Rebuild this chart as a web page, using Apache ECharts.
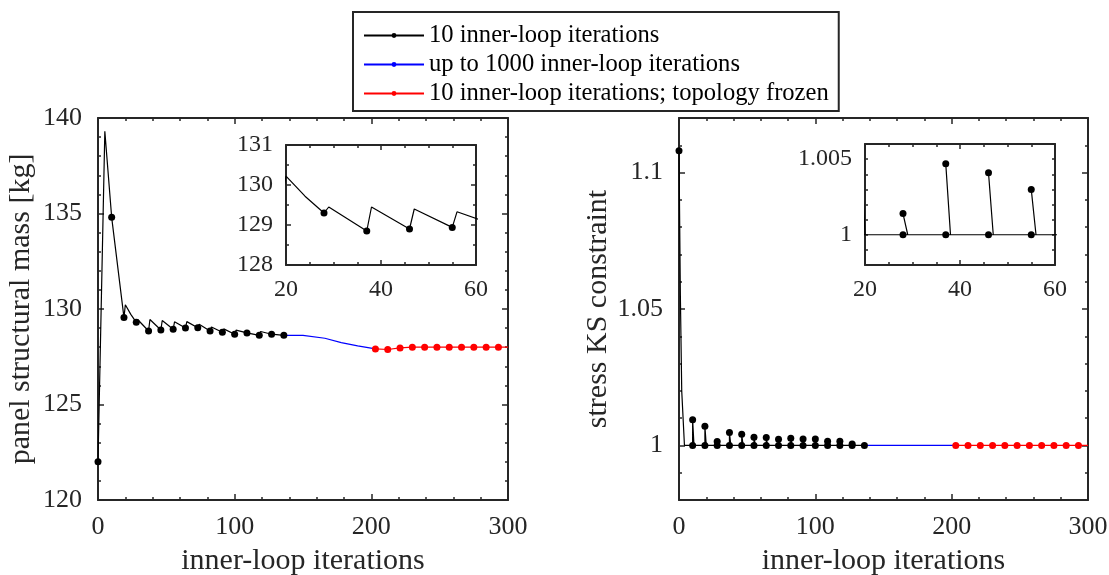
<!DOCTYPE html>
<html>
<head>
<meta charset="utf-8">
<script src="https://cdn.jsdelivr.net/npm/echarts@6/dist/echarts.min.js"></script>
<style>
  html, body { margin: 0; padding: 0; background: #fff; }
  #chart { width: 1109px; height: 575px; }
</style>
</head>
<body>
<div id="chart"></div>
<script>
// outer-loop iterations (markers) of the first phase
const outerIts = [0, 10, 19, 28, 37, 46, 55, 64, 73, 82, 91, 100, 109, 118, 127, 136];
const massAtOuter = [122.0, 134.8, 129.55, 129.3, 128.85, 128.9, 128.94, 129.0, 129.02, 128.85, 128.78, 128.68, 128.75, 128.62, 128.68, 128.62];
// inner iterations between markers (no marker)
const massMidIts = [5, 20, 24, 29, 38, 47, 56, 65, 74, 83, 92, 101, 110, 119, 128];
const massMid = [139.3, 130.22, 129.72, 129.45, 129.45, 129.4, 129.33, 129.34, 129.2, 129.06, 128.96, 128.89, 128.83, 128.82, 128.76];
// up to 1000 inner-loop iterations
const freeIts = [136, 150, 166, 178, 190, 203];
const massFree = [128.62, 128.62, 128.47, 128.24, 128.07, 127.91];
// topology frozen
const frozenIts = [203, 212, 221, 230, 239, 248, 257, 266, 275, 284, 293, 300];
const massFrozen = [127.91, 127.88, 127.96, 128.0, 128.0, 128.0, 128.0, 128.0, 128.0, 128.0, 128.0, 128.0];

// stress KS constraint
const ksStartIts = [0, 1, 2, 4];
const ksStart = [1.108, 1.055, 1.02, 1.0];
const ksPeak = [1.0094, 1.0070, 1.0014, 1.0047, 1.0041, 1.0030, 1.0029, 1.0023, 1.0026, 1.0024, 1.0024, 1.0015, 1.0015, 1.0005];
const ksFree = [1.0, 1.0, 1.0, 1.0, 1.0, 1.0];
const ksFrozen = [1.0, 1.0, 1.0, 1.0, 1.0, 1.0, 1.0, 1.0, 1.0, 1.0, 1.0, 1.0];

const L1 = '10 inner-loop iterations';
const L2 = 'up to 1000 inner-loop iterations';
const L3 = '10 inner-loop iterations; topology frozen';
const AX = '#262626';
const FONT = 'Liberation Serif';

// black mass path: markers at outer iterations, plain vertices between
const massPath = outerIts.map((x, i) => ({ x, v: { value: [x, massAtOuter[i]] } }))
  .concat(massMidIts.map((x, i) => ({ x: x + 0.001, v: { value: [x, massMid[i]], symbol: 'none' } })))
  .sort((a, b) => a.x - b.x).map(d => d.v);

// black KS path: baseline marker, then spike marker at the same iteration
const ksPath = ksStartIts.map((x, i) => i === 0 ? { value: [x, ksStart[i]] } : { value: [x, ksStart[i]], symbol: 'none' });
outerIts.slice(1, -1).forEach((x, i) => {
  ksPath.push({ value: [x, 1.0] });
  ksPath.push({ value: [x + 1, 1.0], symbol: 'none' });
  ksPath.push({ value: [x, ksPeak[i]] });
  ksPath.push({ value: [x + 1, 1.0], symbol: 'none' });
});
ksPath.push({ value: [outerIts[outerIts.length - 1], 1.0] });

const frozenData = ys => frozenIts.map((x, i) => i === frozenIts.length - 1
  ? { value: [x, ys[i]], symbol: 'none' } : { value: [x, ys[i]] });

const grids = [
  { left: 98, top: 118, width: 410, height: 382, outerBoundsMode: 'none' },
  { left: 679, top: 118, width: 409, height: 382, outerBoundsMode: 'none' },
  { left: 286, top: 145, width: 190, height: 120, outerBoundsMode: 'none', show: true, backgroundColor: '#fff', borderWidth: 0 },
  { left: 865, top: 144, width: 190, height: 121, outerBoundsMode: 'none', show: true, backgroundColor: '#fff', borderWidth: 0 }
];

function axis(grid, pos, min, max, interval, o) {
  return {
    type: 'value', gridIndex: grid, position: pos, min: min, max: max, interval: interval,
    axisLine: { show: o.line !== false, onZero: false, lineStyle: { color: AX, width: 2 } },
    axisTick: { show: true, inside: true, length: o.tick || 6, customValues: o.tickValues,
      lineStyle: { color: AX, width: 1.5 } },
    minorTick: { show: !!o.minor, splitNumber: o.minor || 5, length: 3, lineStyle: { color: AX, width: 1.5 } },
    axisLabel: { show: !!o.labels, customValues: o.labelValues, margin: o.margin || 14, color: AX,
      fontFamily: FONT, fontSize: o.fs || 26, formatter: v => String(+(+v).toFixed(4)) },
    splitLine: { show: false },
    name: o.name, nameLocation: 'middle', nameGap: o.nameGap,
    nameTextStyle: { fontFamily: FONT, fontSize: 30, color: AX }
  };
}

const xAxes = [], yAxes = [];
function add(list, cfg) { list.push(cfg); return list.length - 1; }

// left main
const xL = add(xAxes, axis(0, 'bottom', 0, 300, 100, { labels: true, minor: 5, margin: 14, name: 'inner-loop iterations', nameGap: 46 }));
add(xAxes, axis(0, 'top', 0, 300, 100, { minor: 5 }));
const yL = add(yAxes, axis(0, 'left', 120, 140, 5, { labels: true, minor: 5, margin: 16, name: 'panel structural mass [kg]', nameGap: 62 }));
add(yAxes, axis(0, 'right', 120, 140, 5, { minor: 5 }));
// right main
const xR = add(xAxes, axis(1, 'bottom', 0, 300, 100, { labels: true, minor: 5, margin: 14, name: 'inner-loop iterations', nameGap: 46 }));
add(xAxes, axis(1, 'top', 0, 300, 100, { minor: 5 }));
const yR = add(yAxes, axis(1, 'left', 0.98, 1.12, 0.01, { labels: true, labelValues: [1, 1.05, 1.1], tickValues: [1, 1.05, 1.1],
  margin: 16, name: 'stress KS constraint', nameGap: 66 }));
add(yAxes, axis(1, 'left', 0.98, 1.12, 0.01, { line: false, tick: 3 }));
add(yAxes, axis(1, 'right', 0.98, 1.12, 0.01, { tickValues: [1, 1.05, 1.1] }));
add(yAxes, axis(1, 'right', 0.98, 1.12, 0.01, { line: false, tick: 3 }));
// left inset
const xLi = add(xAxes, axis(2, 'bottom', 20, 60, 20, { labels: true, minor: 4, fs: 24, margin: 13, tick: 5 }));
add(xAxes, axis(2, 'top', 20, 60, 20, { minor: 4, tick: 5 }));
const yLi = add(yAxes, axis(2, 'left', 128, 131, 1, { labels: true, minor: 2, fs: 24, margin: 13, tick: 5 }));
add(yAxes, axis(2, 'right', 128, 131, 1, { minor: 2, tick: 5 }));
// right inset
const xRi = add(xAxes, axis(3, 'bottom', 20, 60, 20, { labels: true, minor: 4, fs: 24, margin: 13, tick: 5 }));
add(xAxes, axis(3, 'top', 20, 60, 20, { minor: 4, tick: 5 }));
const yRi = add(yAxes, axis(3, 'left', 0.998, 1.006, 0.001, { labels: true, labelValues: [1, 1.005], fs: 24, margin: 13, tick: 3 }));
add(yAxes, axis(3, 'right', 0.998, 1.006, 0.001, { tick: 3 }));

function line(name, color, xi, yi, data, z, extra) {
  return Object.assign({
    name: name, type: 'line', xAxisIndex: xi, yAxisIndex: yi, data: data,
    symbol: 'circle', symbolSize: 7, z: z,
    itemStyle: { color: color }, lineStyle: { color: color, width: 1.2 },
    emphasis: { disabled: true }
  }, extra || {});
}

const chart = echarts.init(document.getElementById('chart'));
chart.setOption({
  animation: false,
  backgroundColor: '#fff',
  grid: grids,
  xAxis: xAxes,
  yAxis: yAxes,
  legend: {
    data: [L1, L2, L3], orient: 'vertical', left: 353, top: 12,
    padding: [11, 10, 5, 10], itemWidth: 60, itemHeight: 6, itemGap: 4,
    borderColor: AX, borderWidth: 2, backgroundColor: '#fff', selectedMode: false,
    textStyle: { fontFamily: FONT, fontSize: 24.6, color: '#000' }
  },
  series: [
    line(L1, '#000', xL, yL, massPath, 3),
    line(L2, '#0000ff', xL, yL, freeIts.map((x, i) => [x, massFree[i]]), 2, { showSymbol: false }),
    line(L3, '#ff0000', xL, yL, frozenData(massFrozen), 4),
    line(L1, '#000', xR, yR, ksPath, 3),
    line(L2, '#0000ff', xR, yR, freeIts.map((x, i) => [x, ksFree[i]]), 2, { showSymbol: false }),
    line(L3, '#ff0000', xR, yR, frozenData(ksFrozen), 4),
    line(L1, '#000', xLi, yLi, massPath, 5),
    line(L1, '#000', xRi, yRi, ksPath, 5)
  ]
});
</script>
</body>
</html>
